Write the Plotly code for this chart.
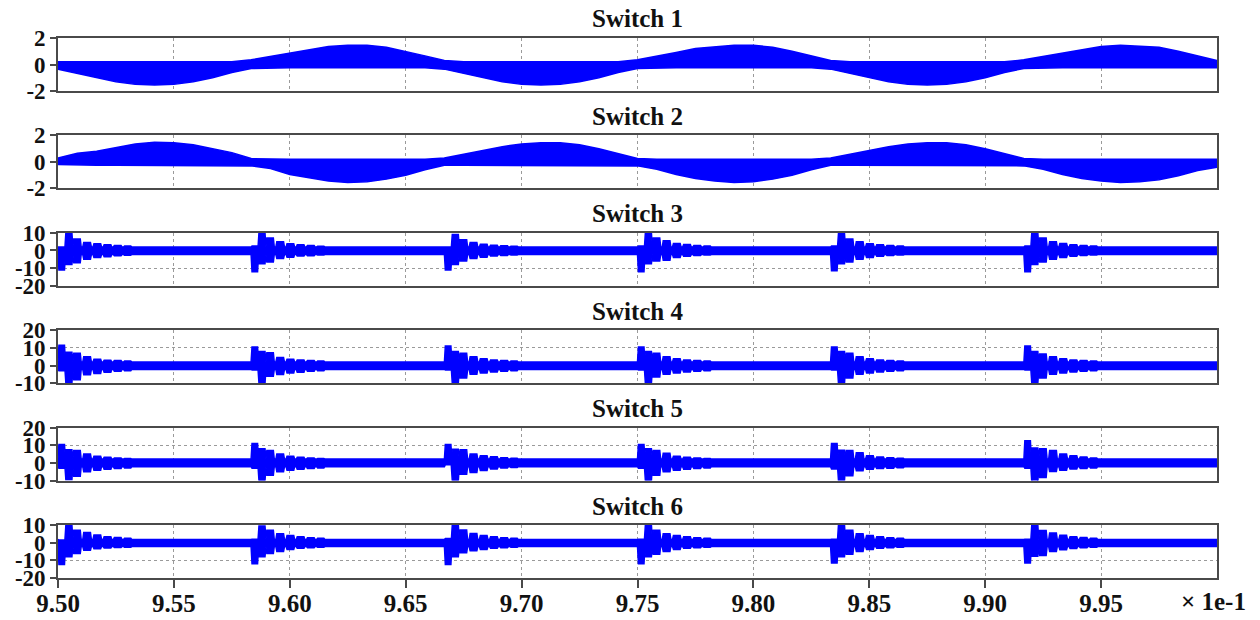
import numpy as np
import plotly.graph_objects as go
from plotly.subplots import make_subplots

# ------------------------------------------------------------------ data
X_RANGE = [9.50, 10.00]
X_TICKS = [9.50, 9.55, 9.60, 9.65, 9.70, 9.75, 9.80, 9.85, 9.90, 9.95]
X_TICK_TEXT = ["9.50", "9.55", "9.60", "9.65", "9.70", "9.75", "9.80", "9.85", "9.90", "9.95"]
X_SCALE_TEXT = "× 1e-1"

TITLES = ["Switch 1", "Switch 2", "Switch 3", "Switch 4", "Switch 5", "Switch 6"]

Y_RANGES = [[-2, 2], [-2, 2], [-20, 10], [-10, 20], [-10, 20], [-20, 10]]
Y_TICKS = [[-2, 0, 2], [-2, 0, 2], [-20, -10, 0, 10], [-10, 0, 10, 20],
           [-10, 0, 10, 20], [-20, -10, 0, 10]]
Y_TICK_TEXT = [["-2", "0", "2"], ["-2", "0", "2"], ["-20", "-10", "0", "10"],
               ["-10", "0", "10", "20"], ["-10", "0", "10", "20"], ["-20", "-10", "0", "10"]]

# Switches 1-2: envelope of the chopped current, read every 1/120 of the window
T_ENV = np.linspace(9.50, 10.00, 61)
S1_UPPER = [0.2, 0.2, 0.2, 0.2, 0.2, 0.2, 0.2, 0.2, 0.2, 0.2,
            0.35, 0.6, 0.9, 1.15, 1.35, 1.45, 1.45, 1.3, 1.0, 0.65,
            0.3, 0.2, 0.2, 0.2, 0.2, 0.2, 0.2, 0.2, 0.2, 0.2,
            0.35, 0.6, 0.9, 1.2, 1.35, 1.45, 1.45, 1.3, 1.0, 0.65,
            0.3, 0.2, 0.2, 0.2, 0.2, 0.2, 0.2, 0.2, 0.2, 0.2,
            0.35, 0.6, 0.9, 1.15, 1.35, 1.45, 1.4, 1.3, 1.0, 0.65,
            0.3]
S1_LOWER = [-0.35, -0.65, -1.0, -1.3, -1.5, -1.55, -1.5, -1.3, -1.0, -0.6,
            -0.3, -0.25, -0.25, -0.25, -0.25, -0.25, -0.25, -0.25, -0.25, -0.25,
            -0.35, -0.65, -1.0, -1.3, -1.5, -1.55, -1.5, -1.3, -1.0, -0.6,
            -0.3, -0.25, -0.25, -0.25, -0.25, -0.25, -0.25, -0.25, -0.25, -0.25,
            -0.35, -0.65, -1.0, -1.3, -1.5, -1.55, -1.5, -1.3, -1.0, -0.6,
            -0.3, -0.25, -0.25, -0.25, -0.25, -0.25, -0.25, -0.25, -0.25, -0.25,
            -0.25]
S2_UPPER = [0.3, 0.65, 0.8, 1.1, 1.35, 1.48, 1.45, 1.3, 1.0, 0.7,
            0.25, 0.2, 0.2, 0.2, 0.2, 0.2, 0.2, 0.2, 0.2, 0.2,
            0.3, 0.6, 0.9, 1.15, 1.35, 1.45, 1.45, 1.3, 1.0, 0.65,
            0.25, 0.2, 0.2, 0.2, 0.2, 0.2, 0.2, 0.2, 0.2, 0.2,
            0.3, 0.6, 0.9, 1.15, 1.35, 1.45, 1.45, 1.3, 1.0, 0.65,
            0.25, 0.2, 0.2, 0.2, 0.2, 0.2, 0.2, 0.2, 0.2, 0.2,
            0.2]
S2_LOWER = [-0.2, -0.25, -0.25, -0.25, -0.25, -0.25, -0.25, -0.25, -0.25, -0.25,
            -0.3, -0.5, -0.95, -1.2, -1.45, -1.55, -1.5, -1.3, -1.0, -0.6,
            -0.25, -0.25, -0.25, -0.25, -0.25, -0.25, -0.25, -0.25, -0.25, -0.25,
            -0.3, -0.55, -0.95, -1.25, -1.45, -1.55, -1.5, -1.3, -1.0, -0.6,
            -0.25, -0.25, -0.25, -0.25, -0.25, -0.25, -0.25, -0.25, -0.25, -0.25,
            -0.3, -0.55, -0.95, -1.25, -1.45, -1.55, -1.5, -1.35, -1.05, -0.65,
            -0.4]

# Switches 3-6: ringing bursts after each commutation (lobe spans relative to burst time)
BURST_TIMES = [9.5000, 9.5833, 9.6667, 9.7500, 9.8333, 9.9167]
LOBE_START = [0.0, 0.0030, 0.0064, 0.0107, 0.0151, 0.0195, 0.0239, 0.0283]
LOBE_END = [0.0032, 0.0064, 0.0100, 0.0144, 0.0188, 0.0232, 0.0276, 0.0318]

S3_BASE = [2.0, -2.3]
S3_UP = [[2.0, 10.0, 6.5, 4.5, 3.8, 3.2, 2.8, 2.5],
         [2.5, 10.0, 7.0, 5.0, 3.8, 3.2, 2.8, 2.4],
         [2.0, 9.0, 6.0, 4.5, 3.5, 3.0, 2.7, 2.4],
         [2.5, 10.0, 7.0, 5.5, 4.0, 3.4, 2.8, 2.5],
         [2.5, 9.5, 6.5, 5.0, 3.8, 3.2, 2.8, 2.5],
         [2.5, 10.0, 7.0, 5.0, 4.0, 3.3, 2.8, 2.5]]
S3_LO = [[-11.0, -8.0, -7.0, -5.0, -4.0, -3.5, -3.0, -2.7],
         [-12.0, -7.5, -6.5, -4.5, -3.8, -3.2, -3.0, -2.6],
         [-11.0, -8.0, -6.0, -4.5, -3.8, -3.2, -2.8, -2.5],
         [-12.0, -7.5, -6.0, -5.5, -4.0, -3.3, -2.9, -2.6],
         [-11.5, -7.5, -6.5, -5.0, -4.0, -3.3, -2.9, -2.6],
         [-12.0, -8.0, -6.5, -5.0, -4.0, -3.3, -2.8, -2.6]]

S4_BASE = [2.0, -2.2]
S4_UP = [[11.5, 7.5, 7.0, 5.0, 3.5, 3.0, 2.8, 2.5],
         [10.5, 8.0, 7.2, 4.5, 3.6, 3.2, 2.8, 2.5],
         [11.0, 8.0, 7.0, 5.0, 3.8, 3.2, 2.8, 2.5],
         [10.5, 8.0, 7.0, 5.0, 3.8, 3.2, 2.8, 2.5],
         [10.5, 8.0, 7.0, 5.0, 3.8, 3.2, 2.8, 2.5],
         [11.0, 8.0, 6.5, 5.0, 3.8, 3.2, 2.8, 2.5]]
S4_LO = [[-3.0, -10.0, -8.0, -5.2, -4.5, -3.8, -3.3, -3.0],
         [-2.5, -10.0, -6.0, -5.1, -4.2, -3.8, -3.2, -3.0],
         [-2.5, -10.0, -7.0, -5.0, -4.2, -3.6, -3.2, -2.9],
         [-2.5, -10.0, -6.5, -5.0, -4.2, -3.6, -3.2, -2.9],
         [-2.5, -10.0, -7.0, -5.0, -4.2, -3.6, -3.2, -2.9],
         [-2.5, -10.0, -7.0, -5.0, -4.2, -3.6, -3.2, -2.9]]

S5_BASE = [2.2, -2.1]
S5_UP = [[10.5, 7.5, 7.0, 5.0, 3.8, 3.2, 2.8, 2.5],
         [11.0, 8.0, 7.0, 5.0, 3.8, 3.2, 2.8, 2.5],
         [10.5, 7.8, 7.5, 5.0, 4.0, 3.5, 3.0, 2.6],
         [10.5, 8.0, 7.0, 5.5, 3.8, 3.2, 2.8, 2.5],
         [11.0, 7.2, 7.0, 5.8, 4.0, 3.4, 3.0, 2.6],
         [12.5, 8.4, 8.0, 7.0, 5.0, 4.0, 3.3, 2.8]]
S5_LO = [[-3.0, -9.5, -7.5, -5.0, -4.2, -3.6, -3.2, -2.9],
         [-3.0, -10.0, -7.0, -5.0, -4.2, -3.6, -3.2, -2.9],
         [-1.0, -10.0, -6.4, -5.4, -4.3, -3.5, -2.8, -2.6],
         [-3.0, -10.0, -7.0, -5.0, -4.2, -3.6, -3.2, -2.9],
         [-3.4, -9.8, -7.3, -4.4, -3.6, -3.2, -3.0, -2.7],
         [-3.0, -11.0, -8.2, -4.9, -4.2, -3.5, -3.1, -2.8]]

S6_BASE = [1.8, -2.2]
S6_UP = [[1.5, 10.0, 7.0, 5.7, 4.3, 3.4, 2.9, 2.5],
         [2.0, 9.5, 7.0, 5.0, 4.0, 3.3, 2.8, 2.5],
         [2.4, 10.0, 7.1, 5.2, 4.0, 3.3, 2.8, 2.5],
         [2.0, 10.0, 7.0, 5.0, 4.0, 3.3, 2.8, 2.5],
         [2.0, 10.0, 7.0, 5.0, 4.0, 3.3, 2.8, 2.5],
         [2.0, 10.0, 6.9, 5.5, 4.2, 3.4, 2.9, 2.5]]
S6_LO = [[-12.3, -8.0, -6.2, -4.3, -3.4, -3.0, -2.8, -2.6],
         [-12.0, -8.0, -6.2, -5.0, -3.8, -3.2, -2.9, -2.6],
         [-12.3, -8.0, -5.7, -4.6, -3.8, -3.2, -2.9, -2.6],
         [-12.0, -8.0, -6.5, -5.0, -3.8, -3.2, -2.9, -2.6],
         [-11.5, -8.0, -6.5, -5.0, -3.8, -3.2, -2.9, -2.6],
         [-11.5, -7.7, -7.2, -5.0, -4.0, -3.3, -2.9, -2.6]]

# ------------------------------------------------------------------ style
BLUE = "#0000FF"
FONT = "Liberation Serif, Times New Roman, serif"
FRAME = "#4a4a4a"
GRID = "#9a9a9a"
EDGE_RAMP = 0.0004   # steepness of lobe flanks (drawing style)


def burst_envelope(up, lo, base):
    t, u, l = [], [], []
    for tb, ub, lb in zip(BURST_TIMES, up, lo):
        for k in range(len(LOBE_START)):
            s, e = tb + LOBE_START[k], tb + LOBE_END[k]
            t += [s, s + EDGE_RAMP, e - EDGE_RAMP, e]
            u += [base[0], ub[k], ub[k], base[0]]
            l += [base[1], lb[k], lb[k], base[1]]
    t.append(X_RANGE[1]); u.append(base[0]); l.append(base[1])
    return t, u, l


series = [
    (list(T_ENV), S1_UPPER, S1_LOWER),
    (list(T_ENV), S2_UPPER, S2_LOWER),
    burst_envelope(S3_UP, S3_LO, S3_BASE),
    burst_envelope(S4_UP, S4_LO, S4_BASE),
    burst_envelope(S5_UP, S5_LO, S5_BASE),
    burst_envelope(S6_UP, S6_LO, S6_BASE),
]

fig = make_subplots(rows=6, cols=1)

for i, (t, u, l) in enumerate(series):
    r = i + 1
    fig.add_trace(go.Scatter(x=t, y=l, mode="lines", line=dict(color=BLUE, width=1.5),
                             hoverinfo="skip", showlegend=False), row=r, col=1)
    fig.add_trace(go.Scatter(x=t, y=u, mode="lines", line=dict(color=BLUE, width=1.5),
                             fill="tonexty", fillcolor=BLUE,
                             hoverinfo="skip", showlegend=False), row=r, col=1)

# geometry (pixels)
W, H = 1260, 620
ML, MR, MT, MB = 58, 43, 38, 42
PH = H - MT - MB
STEP_PX = 97.4
SUB_PX = 53

annotations = []
for i in range(6):
    r = i + 1
    top = min(1.0, max(0.0, 1 - (STEP_PX * i) / PH))
    bot = min(1.0, max(0.0, top - SUB_PX / PH))
    last = (i == 5)
    fig.update_yaxes(row=r, col=1, domain=[bot, top], range=Y_RANGES[i],
                     tickvals=Y_TICKS[i], ticktext=Y_TICK_TEXT[i], automargin=False,
                     ticks="outside", ticklen=6, tickwidth=1.5, tickcolor=FRAME,
                     showline=True, linecolor=FRAME, linewidth=1.6, mirror=True,
                     showgrid=True, gridcolor=GRID, griddash="dot", gridwidth=1,
                     zeroline=False,
                     tickfont=dict(family=FONT, size=23, color="#111", weight="bold"))
    fig.update_xaxes(row=r, col=1, range=X_RANGE, tickvals=X_TICKS, ticktext=X_TICK_TEXT,
                     showticklabels=last, ticks="outside" if last else "", automargin=False,
                     ticklen=8, tickwidth=1.5, tickcolor=FRAME, ticklabelstandoff=-6,
                     showline=True, linecolor=FRAME, linewidth=1.6, mirror=True,
                     showgrid=True, gridcolor=GRID, griddash="dot", gridwidth=1,
                     zeroline=False,
                     tickfont=dict(family=FONT, size=25, color="#111", weight="bold"))
    annotations.append(dict(text=TITLES[i], xref="paper", yref="paper", x=0.5,
                            y=top + 19 / PH, xanchor="center", yanchor="middle",
                            showarrow=False,
                            font=dict(family=FONT, size=25, color="#111", weight="bold")))

annotations.append(dict(text=X_SCALE_TEXT, xref="paper", yref="paper",
                        x=(1213 - ML) / (W - ML - MR), y=-23 / PH,
                        xanchor="center", yanchor="middle", showarrow=False,
                        font=dict(family=FONT, size=25, color="#111", weight="bold")))

fig.update_layout(width=W, height=H, margin=dict(l=ML, r=MR, t=MT, b=MB, autoexpand=False),
                  paper_bgcolor="white", plot_bgcolor="white",
                  annotations=annotations, showlegend=False)

fig.write_html("out.html")
